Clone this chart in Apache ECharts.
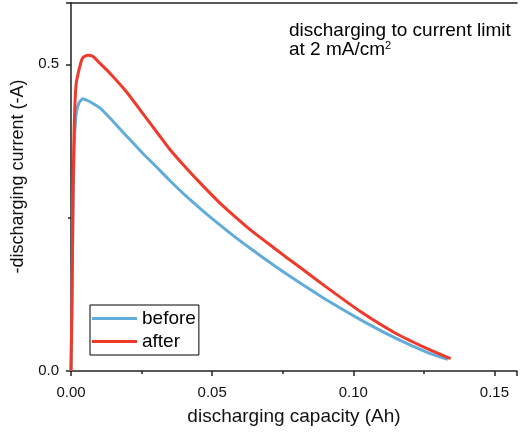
<!DOCTYPE html>
<html>
<head>
<meta charset="utf-8">
<script src="https://cdn.jsdelivr.net/npm/echarts@6/dist/echarts.min.js"></script>
<style>
  html, body { margin: 0; padding: 0; background: #fff; }
  #chart { width: 520px; height: 434px; }
</style>
</head>
<body>
<div id="chart"></div>
<script>
// discharging capacity (Ah) / -discharging current (-A)
var beforeCap = [0, 0.00035, 0.0007, 0.0011, 0.0018, 0.0028, 0.0042, 0.0053, 0.0067, 0.0102, 0.0137, 0.0197, 0.0254, 0.0313, 0.0349, 0.0408, 0.0465, 0.0525, 0.0585, 0.0641, 0.0701, 0.0761, 0.0817, 0.0912, 0.1028, 0.1148, 0.1264, 0.1335];
var beforeCur = [0, 0.116, 0.263, 0.361, 0.418, 0.437, 0.444, 0.442, 0.439, 0.429, 0.413, 0.383, 0.355, 0.328, 0.311, 0.285, 0.262, 0.239, 0.217, 0.198, 0.178, 0.159, 0.142, 0.114, 0.083, 0.054, 0.030, 0.019];

var afterCap = [0, 0.00035, 0.0007, 0.0011, 0.0018, 0.0032, 0.0042, 0.006, 0.0077, 0.0102, 0.0137, 0.0197, 0.0254, 0.0313, 0.0349, 0.0408, 0.0465, 0.0525, 0.0585, 0.0641, 0.0701, 0.0761, 0.0817, 0.0901, 0.1028, 0.1148, 0.1264, 0.1345];
var afterCur = [0, 0.116, 0.279, 0.393, 0.467, 0.498, 0.511, 0.515, 0.513, 0.502, 0.486, 0.455, 0.420, 0.384, 0.362, 0.331, 0.303, 0.275, 0.250, 0.228, 0.207, 0.186, 0.167, 0.138, 0.096, 0.062, 0.036, 0.020];

var xTicks = [0, 0.05, 0.10, 0.15];
var yTicks = [0, 0.5];

function pairs(xs, ys) {
  return xs.map(function(x, i) { return [x, ys[i]]; });
}

var FONT = 'Liberation Sans';
var axisColor = '#222';

var myChart = echarts.init(document.getElementById('chart'));
var option = {
  animation: false,
  textStyle: { fontFamily: FONT },
  grid: { left: 71, right: 1, top: 3, bottom: 63 },
  legend: {
    orient: 'vertical',
    left: 90,
    top: 305,
    padding: [4, 3, 4, 2],
    itemGap: 4,
    itemWidth: 45,
    itemHeight: 3,
    icon: 'rect',
    borderColor: '#000',
    borderWidth: 1,
    textStyle: { fontFamily: FONT, fontSize: 19, color: '#000', lineHeight: 19 },
    data: ['before', 'after']
  },
  xAxis: [{
    type: 'value',
    min: 0,
    max: 0.158,
    interval: 0.05,
    name: 'discharging capacity (Ah)',
    nameLocation: 'middle',
    nameGap: 36,
    nameTextStyle: { fontFamily: FONT, fontSize: 19, color: '#111' },
    axisLine: { show: true, onZero: false, lineStyle: { color: axisColor, width: 1.5 } },
    axisTick: { show: true, length: 5, lineStyle: { color: axisColor, width: 1.5 } },
    minorTick: { show: true, splitNumber: 2, length: 3, lineStyle: { color: axisColor, width: 1.5 } },
    splitLine: { show: false },
    axisLabel: {
      margin: 14,
      fontSize: 15,
      color: '#111',
      formatter: function(v) { return xTicks.indexOf(+v.toFixed(2)) >= 0 ? v.toFixed(2) : ''; }
    }
  }, {
    type: 'value',
    position: 'top',
    min: 0,
    max: 0.158,
    axisLine: { show: true, onZero: false, lineStyle: { color: axisColor, width: 1.5 } },
    axisTick: { show: false },
    axisLabel: { show: false },
    splitLine: { show: false }
  }],
  yAxis: {
    type: 'value',
    min: 0,
    max: 0.6,
    interval: 0.5,
    name: '-discharging current (-A)',
    nameLocation: 'middle',
    nameGap: 31,
    nameTextStyle: { fontFamily: FONT, fontSize: 18, color: '#111', padding: [0, 0, 0, 21] },
    axisLine: { show: true, onZero: false, lineStyle: { color: axisColor, width: 1.5 } },
    axisTick: { show: true, length: 5, lineStyle: { color: axisColor, width: 1.5 } },
    minorTick: { show: true, splitNumber: 2, length: 3, lineStyle: { color: axisColor, width: 1.5 } },
    splitLine: { show: false },
    axisLabel: {
      margin: 12,
      fontSize: 15,
      color: '#111',
      formatter: function(v) { return yTicks.indexOf(+v.toFixed(1)) >= 0 ? v.toFixed(1) : ''; }
    }
  },
  graphic: [{
    type: 'text',
    left: 289,
    top: 21,
    style: {
      text: '{a|discharging to current limit}\n{a|at 2 mA/cm}{s|2}',
      rich: {
        a: { fontFamily: FONT, fontSize: 19, color: '#111', lineHeight: 19 },
        s: { fontFamily: FONT, fontSize: 11, color: '#111', verticalAlign: 'top', lineHeight: 19, padding: [0, 0, 8, 0] }
      }
    }
  }],
  series: [{
    name: 'before',
    type: 'line',
    showSymbol: false,
    smooth: 0.2,
    color: '#62acd9',
    lineStyle: { width: 3, color: '#62acd9' },
    data: pairs(beforeCap, beforeCur)
  }, {
    name: 'after',
    type: 'line',
    showSymbol: false,
    smooth: 0.2,
    color: '#ee3a2b',
    lineStyle: { width: 3, color: '#ee3a2b' },
    data: pairs(afterCap, afterCur)
  }]
};
myChart.setOption(option);
</script>
</body>
</html>
